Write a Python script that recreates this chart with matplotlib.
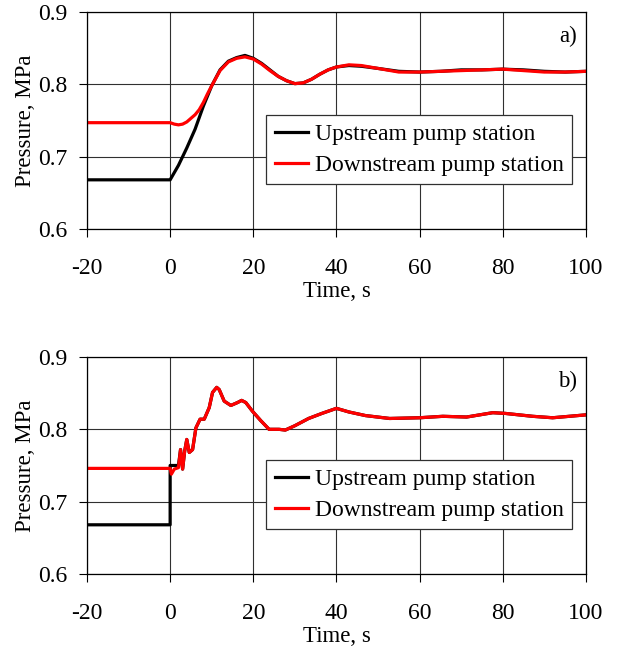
import matplotlib
matplotlib.use("Agg")
import matplotlib.pyplot as plt

plt.rcParams['font.family'] = ['Liberation Serif', 'DejaVu Serif']
plt.rcParams['axes.unicode_minus'] = False

# panel a) - pump stop/start, smooth transient
t_a_up = [-20, 0, 2, 4, 6, 8, 10, 12, 14, 16, 18, 20, 22, 24, 26, 28, 30, 32,
          34, 36, 38, 40, 43, 46, 50, 55, 60, 65, 70, 75, 80, 85, 90, 95, 100]
p_a_up = [0.668, 0.668, 0.688, 0.712, 0.738, 0.770, 0.798, 0.820, 0.832, 0.837,
          0.840, 0.836, 0.829, 0.820, 0.811, 0.805, 0.801, 0.802, 0.807, 0.814,
          0.820, 0.824, 0.826, 0.825, 0.822, 0.818, 0.817, 0.818, 0.820, 0.820,
          0.821, 0.820, 0.818, 0.817, 0.818]

t_a_dn = [-20, 0, 1, 2, 3, 4, 5, 6, 7, 8, 9, 10, 12, 14, 16, 18, 20, 22, 24,
          26, 28, 30, 32, 34, 36, 38, 40, 43, 46, 50, 55, 60, 65, 70, 75, 80,
          85, 90, 95, 100]
p_a_dn = [0.747, 0.747, 0.745, 0.744, 0.745, 0.748, 0.753, 0.758, 0.765, 0.775,
          0.787, 0.798, 0.819, 0.831, 0.836, 0.838, 0.835, 0.828, 0.819, 0.811,
          0.805, 0.801, 0.802, 0.807, 0.814, 0.820, 0.824, 0.827, 0.826, 0.822,
          0.817, 0.817, 0.818, 0.819, 0.820, 0.821, 0.819, 0.817, 0.817, 0.818]

# panel b) - with pressure waves
t_b_dn = [-20, 0, 0.3, 1, 2, 2.5, 3, 3.5, 4, 4.6, 5.4, 6.2, 7.2, 8.2, 9.4,
          10.2, 11.2, 11.8, 13, 14.6, 16.2, 17.2, 18.2, 19.8, 21.8, 23.8, 26.2,
          27.7, 30, 33.3, 36.5, 40, 43, 47, 52.8, 60, 65.6, 71.3, 77.6, 80.6,
          87.2, 92, 100]
p_b_dn = [0.746, 0.746, 0.738, 0.745, 0.747, 0.772, 0.745, 0.770, 0.786, 0.768,
          0.772, 0.802, 0.814, 0.814, 0.830, 0.851, 0.858, 0.855, 0.839, 0.833,
          0.837, 0.840, 0.837, 0.825, 0.812, 0.800, 0.800, 0.799, 0.805, 0.815,
          0.822, 0.829, 0.824, 0.819, 0.815, 0.816, 0.818, 0.817, 0.823, 0.822,
          0.818, 0.816, 0.820]

t_b_up = [-20, 0, 0, 2] + t_b_dn[5:]
p_b_up = [0.668, 0.668, 0.750, 0.750] + p_b_dn[5:]

fig = plt.figure(figsize=(6.2, 6.53), dpi=100)
ax_a = fig.add_axes([0.1403, 0.6493, 0.8047, 0.3323])
ax_b = fig.add_axes([0.1403, 0.1210, 0.8047, 0.3323])

panels = [(ax_a, t_a_up, p_a_up, t_a_dn, p_a_dn, 'a)'),
          (ax_b, t_b_up, p_b_up, t_b_dn, p_b_dn, 'b)')]

for ax, tu, pu, td, pd, tag in panels:
    ax.plot(tu, pu, color='black', lw=2.3, label='Upstream pump station')
    ax.plot(td, pd, color='#ff0000', lw=2.3, label='Downstream pump station')
    ax.set_xlim(-20, 100)
    ax.set_ylim(0.6, 0.9)
    ax.set_xticks(range(-20, 101, 20))
    ax.set_yticks([0.6, 0.7, 0.8, 0.9])
    ax.set_yticklabels(['0.6', '0.7', '0.8', '0.9'])
    ax.grid(True, color='#303030', lw=0.8)
    ax.tick_params(direction='out', length=6, width=0.8, labelsize=17)
    ax.tick_params(axis='x', pad=15)
    ax.tick_params(axis='y', pad=8)
    for s in ax.spines.values():
        s.set_linewidth(0.9)
    ax.set_xlabel('Time, s', fontsize=16.5, labelpad=1)
    ax.set_ylabel('Pressure, MPa', fontsize=16.5, labelpad=2)
    ax.text(0.982, 0.889, tag, transform=ax.transAxes, ha='right', va='center',
            fontsize=16.5)
    leg = ax.legend(loc='upper right', bbox_to_anchor=(0.972, 0.525),
                    borderaxespad=0, fontsize=17, fancybox=False,
                    edgecolor='#303030', framealpha=1, handlelength=1.4,
                    handletextpad=0.3, borderpad=0.35, labelspacing=0.4)
    leg.get_frame().set_linewidth(0.9)

fig.savefig('out.png', dpi=100)
